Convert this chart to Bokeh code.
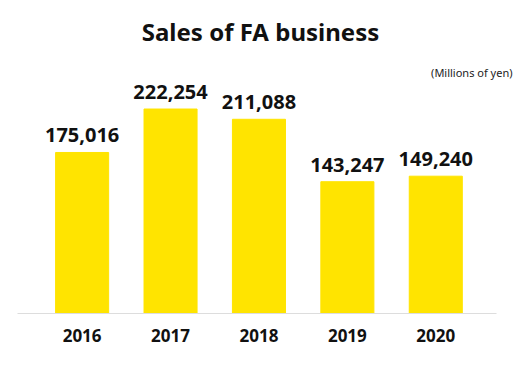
from bokeh.plotting import figure
from bokeh.models import ColumnDataSource, FixedTicker, Label
from bokeh.core.properties import value
from bokeh.embed import file_html
from bokeh.resources import INLINE

years = ["2016", "2017", "2018", "2019", "2020"]
sales = [175016, 222254, 211088, 143247, 149240]
sales_labels = ["175,016", "222,254", "211,088", "143,247", "149,240"]

FONT = "Noto Sans"
idx = list(range(len(years)))
src = ColumnDataSource(dict(x=idx, top=sales, label=sales_labels))

p = figure(width=516, height=362, output_backend="svg", toolbar_location=None,
           x_range=(-0.731, 4.913), y_range=(0, 340200),
           min_border_left=17, min_border_right=0, min_border_top=0, min_border_bottom=49)
p.outline_line_color = None
p.background_fill_color = "white"
p.border_fill_color = "white"
p.xgrid.visible = False
p.ygrid.visible = False
p.yaxis.visible = False

p.vbar(x="x", top="top", width=0.6, bottom=0, source=src, color="#FFE400")
p.text(x="x", y="top", text="label", source=src, text_align="center",
       text_baseline="bottom", y_offset=-10, text_font=value(FONT),
       text_font_style="bold", text_font_size="20px", text_color="#111111")

xa = p.xaxis[0]
xa.ticker = FixedTicker(ticks=idx)
xa.bounds = (-0.731, 4.686)
xa.major_label_overrides = {i: y for i, y in zip(idx, years)}
xa.axis_line_color = "#dddddd"
xa.axis_line_width = 1
xa.major_tick_line_color = None
xa.minor_tick_line_color = None
xa.major_label_standoff = 9
xa.major_label_text_font = FONT
xa.major_label_text_font_style = "bold"
xa.major_label_text_font_size = "17px"
xa.major_label_text_color = "#111111"

p.add_layout(Label(x=243, y=282, x_units="screen", y_units="screen",
                   text="Sales of FA business", text_align="center",
                   text_baseline="middle", text_font=FONT, text_font_style="bold",
                   text_font_size="24px", text_color="#111111"))
p.add_layout(Label(x=495, y=241, x_units="screen", y_units="screen",
                   text="(Millions of yen)", text_align="right",
                   text_baseline="middle", text_font=FONT,
                   text_font_size="11px", text_color="#222222"))

open("out.html", "w").write(file_html(p, INLINE))
